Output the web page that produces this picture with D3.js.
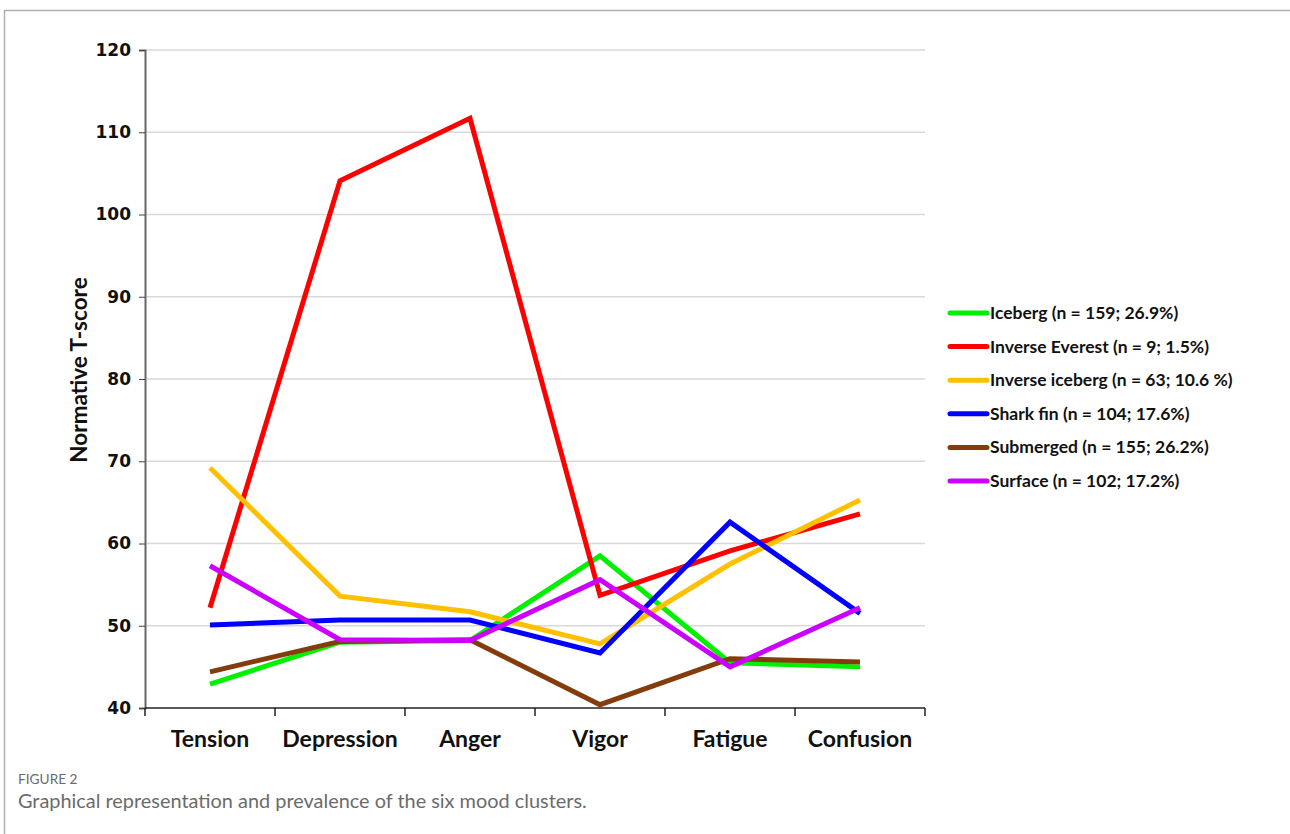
<!DOCTYPE html>
<html lang="en">
<head>
<meta charset="UTF-8">
<title>Mood clusters</title>
<script src="https://d3js.org/d3.v7.min.js"></script>
<style>
  body { margin: 0; background: #fff; }
  .tick text { font-family: "DejaVu Sans", sans-serif; font-weight: bold; }
</style>
</head>
<body>
<svg id="chart" width="1290" height="834"></svg>
<script>
  // data
  var moods = ['Tension', 'Depression', 'Anger', 'Vigor', 'Fatigue', 'Confusion']
  var clusterNames = ['Iceberg (n = 159; 26.9%)', 'Inverse Everest (n = 9; 1.5%)', 'Inverse iceberg (n = 63; 10.6 %)',
    'Shark fin (n = 104; 17.6%)', 'Submerged (n = 155; 26.2%)', 'Surface (n = 102; 17.2%)']
  var iceberg = [42.9, 48.0, 48.2, 58.5, 45.5, 45.0]
  var inverseEverest = [52.2, 104.1, 111.7, 53.7, 59.1, 63.6]
  var inverseIceberg = [69.2, 53.6, 51.7, 47.8, 57.5, 65.3]
  var sharkFin = [50.1, 50.7, 50.7, 46.7, 62.6, 51.5]
  var submerged = [44.4, 48.1, 48.3, 40.4, 46.0, 45.6]
  var surface = [57.3, 48.3, 48.2, 55.6, 45.0, 52.2]
  var yTicks = [40, 50, 60, 70, 80, 90, 100, 110, 120]
  var colors = ['#00f000', '#ff0000', '#ffc000', '#0000ff', '#843c0c', '#cc00ff']

  var series = [iceberg, inverseEverest, inverseIceberg, sharkFin, submerged, surface]

  var svg = d3.select('#chart')

  // outer frame
  svg.append('path')
    .attr('d', 'M4.5,834 V10.5 H1290')
    .attr('fill', 'none')
    .attr('stroke', '#b0b0b0')
    .attr('stroke-width', 1.5)

  var plotLeft = 145, plotRight = 925, plotTop = 50, plotBottom = 708

  var x = d3.scaleBand().domain(moods).range([plotLeft, plotRight])
  var y = d3.scaleLinear().domain([40, 120]).range([plotBottom, plotTop])

  // gridlines
  svg.append('g')
    .selectAll('line')
    .data(yTicks.slice(1))
    .enter()
    .append('line')
    .attr('x1', plotLeft)
    .attr('x2', plotRight)
    .attr('y1', d => y(d))
    .attr('y2', d => y(d))
    .attr('stroke', '#d9d9d9')
    .attr('stroke-width', 1.5)

  // y axis
  var yAxis = d3.axisLeft(y).tickValues(yTicks).tickSize(6).tickPadding(8)
  var gy = svg.append('g')
    .attr('transform', 'translate(' + plotLeft + ',0)')
    .call(yAxis)
  gy.select('.domain').attr('stroke', '#666').attr('stroke-width', 2)
  gy.selectAll('.tick line').attr('stroke', '#444')
  gy.selectAll('.tick text').attr('font-size', 17).attr('fill', '#111')

  // x axis
  var gx = svg.append('g')
    .attr('transform', 'translate(0,' + plotBottom + ')')
  gx.append('line')
    .attr('x1', plotLeft).attr('x2', plotRight)
    .attr('stroke', '#222').attr('stroke-width', 1.5)
  var bounds = moods.map(d => x(d)).concat([plotRight])
  gx.selectAll('.xt')
    .data(bounds)
    .enter()
    .append('line')
    .attr('class', 'xt')
    .attr('x1', d => d).attr('x2', d => d)
    .attr('y1', 0).attr('y2', 8)
    .attr('stroke', '#222').attr('stroke-width', 1.5)
  gx.selectAll('.xl')
    .data(moods)
    .enter()
    .append('text')
    .attr('class', 'xl')
    .attr('x', d => x(d) + x.bandwidth() / 2)
    .attr('y', 39)
    .attr('text-anchor', 'middle')
    .attr('font-family', 'Lato, sans-serif')
    .attr('font-weight', 'bold')
    .attr('font-size', 23)
    .attr('fill', '#111')
    .text(d => d)

  // y title
  svg.append('text')
    .attr('transform', 'translate(87,370) rotate(-90)')
    .attr('text-anchor', 'middle')
    .attr('font-family', 'Lato, sans-serif')
    .attr('font-weight', 'bold')
    .attr('font-size', 22.5)
    .attr('fill', '#111')
    .text('Normative T-score')

  // lines
  var line = d3.line()
    .x((d, i) => x(moods[i]) + x.bandwidth() / 2)
    .y(d => y(d))

  svg.append('g')
    .selectAll('path')
    .data(series)
    .enter()
    .append('path')
    .attr('d', d => line(d))
    .attr('fill', 'none')
    .attr('stroke', (d, i) => colors[i])
    .attr('stroke-width', 5)
    .attr('stroke-linejoin', 'miter')

  // legend
  var lg = svg.append('g').attr('transform', 'translate(950,313)')
  lg.selectAll('line')
    .data(clusterNames)
    .enter()
    .append('line')
    .attr('x1', 0).attr('x2', 37)
    .attr('y1', (d, i) => i * 33.6).attr('y2', (d, i) => i * 33.6)
    .attr('stroke', (d, i) => colors[i])
    .attr('stroke-width', 5)
    .attr('stroke-linecap', 'round')
  lg.selectAll('text')
    .data(clusterNames)
    .enter()
    .append('text')
    .attr('x', 40)
    .attr('y', (d, i) => i * 33.6 + 6)
    .attr('font-family', 'Lato, sans-serif')
    .attr('font-weight', 'bold')
    .attr('font-size', 17.5)
    .attr('fill', '#111')
    .text(d => d)

  // caption
  svg.append('text')
    .attr('x', 18).attr('y', 784)
    .attr('font-family', 'Lato, sans-serif')
    .attr('font-size', 13.7)
    .attr('fill', '#6b6b6b')
    .text('FIGURE 2')
  svg.append('text')
    .attr('x', 18).attr('y', 808)
    .attr('font-family', 'Lato, sans-serif')
    .attr('font-size', 19.9)
    .attr('fill', '#6b6b6b')
    .text('Graphical representation and prevalence of the six mood clusters.')
</script>
</body>
</html>
